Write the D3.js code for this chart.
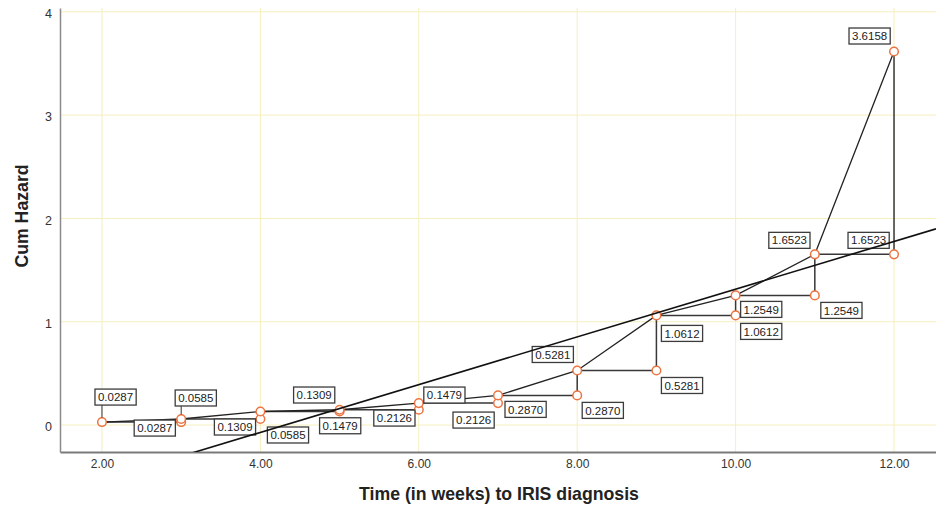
<!DOCTYPE html>
<html>
<head>
<meta charset="utf-8">
<script src="https://cdn.jsdelivr.net/npm/d3@7/dist/d3.min.js"></script>
<style>
  html, body { margin: 0; padding: 0; background: #fff; }
  svg { display: block; font-family: "Liberation Sans", Arial, sans-serif; }
</style>
</head>
<body>
<svg id="chart" width="936" height="509"></svg>
<script>
// Cumulative hazard by week of follow-up
const weeks = [2, 3, 4, 5, 6, 7, 8, 9, 10, 11, 12];
const cumHazard = [0.0287, 0.0585, 0.1309, 0.1479, 0.2126, 0.2870, 0.5281, 1.0612, 1.2549, 1.6523, 3.6158];

// Linear fit line (cum hazard = intercept + slope * week)
const fitSlope = 0.231;
const fitIntercept = -0.995;

// Axis ticks and titles
const xTicks = [2, 4, 6, 8, 10, 12];
const yTicks = [0, 1, 2, 3, 4];
const xTitle = "Time (in weeks) to IRIS diagnosis";
const yTitle = "Cum Hazard";

// ---- layout ----
const plot = { left: 60, right: 936, top: 8, bottom: 452 };

const x = d3.scaleLinear().domain([1.47, 12.53]).range([plot.left, plot.right]);
const y = d3.scaleLinear().domain([-0.261, 4.037]).range([plot.bottom, plot.top]);

const svg = d3.select("#chart");

svg.append("defs").append("clipPath").attr("id", "plotClip")
  .append("rect")
  .attr("x", plot.left).attr("y", plot.top)
  .attr("width", plot.right - plot.left).attr("height", plot.bottom - plot.top);

// gridlines
const grid = svg.append("g").attr("stroke", "#f5efbd").attr("stroke-width", 1);
grid.selectAll("line.vx").data(xTicks).join("line")
  .attr("x1", d => x(d)).attr("x2", d => x(d))
  .attr("y1", plot.top).attr("y2", plot.bottom);
grid.selectAll("line.hy").data(yTicks).join("line")
  .attr("x1", plot.left).attr("x2", plot.right)
  .attr("y1", d => y(d)).attr("y2", d => y(d));

// axes
const xAxis = svg.append("g")
  .attr("transform", `translate(0,${plot.bottom})`)
  .call(d3.axisBottom(x).tickValues(xTicks).tickFormat(d3.format(".2f")).tickSize(0).tickPadding(7));
xAxis.select(".domain").attr("stroke", "#7a7a7a").attr("stroke-width", 2);
xAxis.selectAll("text").attr("font-size", 12).attr("fill", "#333")
  .attr("font-family", "'Liberation Sans', Arial, sans-serif");

const yAxis = svg.append("g")
  .attr("transform", `translate(${plot.left},0)`)
  .call(d3.axisLeft(y).tickValues(yTicks).tickFormat(d3.format("d")).tickSize(0).tickPadding(8));
yAxis.select(".domain").attr("stroke", "#8a8a8a").attr("stroke-width", 1.5);
yAxis.selectAll("text").attr("font-size", 12.5).attr("fill", "#333").attr("dy", "0.45em")
  .attr("font-family", "'Liberation Sans', Arial, sans-serif");

// axis titles
svg.append("text")
  .attr("x", 499).attr("y", 500)
  .attr("text-anchor", "middle").attr("font-size", 17.7).attr("font-weight", "bold").attr("fill", "#222")
  .text(xTitle);
svg.append("text")
  .attr("transform", `translate(28,216) rotate(-90)`)
  .attr("text-anchor", "middle").attr("font-size", 17.7).attr("font-weight", "bold").attr("fill", "#222")
  .text(yTitle);

const marks = svg.append("g").attr("clip-path", "url(#plotClip)");

// points: first event, then at each later week the level before and after the jump
const pts = [{ t: weeks[0], v: cumHazard[0] }];
for (let i = 1; i < weeks.length; i++) {
  pts.push({ t: weeks[i], v: cumHazard[i - 1] });
  pts.push({ t: weeks[i], v: cumHazard[i] });
}

// step function
const pathLine = d3.line().x(d => x(d.t)).y(d => y(d.v));
marks.append("path")
  .datum(pts)
  .attr("d", pathLine)
  .attr("fill", "none").attr("stroke", "#383838").attr("stroke-width", 1.5);

// interpolation through the levels
const levelPts = weeks.map((t, i) => ({ t, v: cumHazard[i] }));
marks.append("path")
  .datum(levelPts)
  .attr("d", pathLine)
  .attr("fill", "none").attr("stroke", "#222").attr("stroke-width", 1.3);

// point markers
marks.selectAll("circle.pt").data(pts).join("circle")
  .attr("cx", d => x(d.t)).attr("cy", d => y(d.v)).attr("r", 4.3)
  .attr("fill", "#fff").attr("stroke", "#ec7440").attr("stroke-width", 1.5);

// value labels (box offset from its point, in px)
const labelOffsets = [
  [-7, -33],
  [-47, -2], [-6, -29],
  [7, 8], [-46, 7.5],
  [-46, -24.5], [-20, 8],
  [5, -22.7], [-45, 7],
  [-45, 9], [7, 6],
  [5, 7], [-45, -24],
  [5, 7], [5, 10],
  [5, 8], [5, 6],
  [6, 7], [-46, -22],
  [-46, -22], [-45, -23.5]
];
const boxH = 16;
const labels = svg.append("g");
pts.forEach((p, i) => {
  const px = x(p.t), py = y(p.v);
  const [dx, dy] = labelOffsets[i];
  const g = labels.append("g").attr("transform", `translate(${px + dx},${py + dy})`);
  const rect = g.append("rect").attr("fill", "#fff").attr("stroke", "#3c3c3c").attr("stroke-width", 1.3);
  const txt = g.append("text")
    .attr("x", 3).attr("y", boxH / 2).attr("dy", "0.36em")
    .attr("font-size", 11.5).attr("fill", "#222")
    .text(d3.format(".4f")(p.v));
  const tw = txt.node().getComputedTextLength();
  const bw = tw + 6;
  rect.attr("width", bw).attr("height", boxH);
  // leader line when the box sits away from its point
  const nx = Math.max(px + dx, Math.min(px, px + dx + bw));
  const ny = Math.max(py + dy, Math.min(py, py + dy + boxH));
  const dist = Math.hypot(nx - px, ny - py);
  if (dist > 12) {
    const k = 4.5 / dist;
    labels.insert("line", ":first-child")
      .attr("x1", nx).attr("y1", ny)
      .attr("x2", px + (nx - px) * k).attr("y2", py + (ny - py) * k)
      .attr("stroke", "#333").attr("stroke-width", 1);
  }
});

// linear fit, drawn over everything inside the plot
svg.append("g").attr("clip-path", "url(#plotClip)")
  .append("line")
  .attr("x1", x(x.domain()[0])).attr("y1", y(fitIntercept + fitSlope * x.domain()[0]))
  .attr("x2", x(x.domain()[1])).attr("y2", y(fitIntercept + fitSlope * x.domain()[1]))
  .attr("stroke", "#111").attr("stroke-width", 1.6);
</script>
</body>
</html>
